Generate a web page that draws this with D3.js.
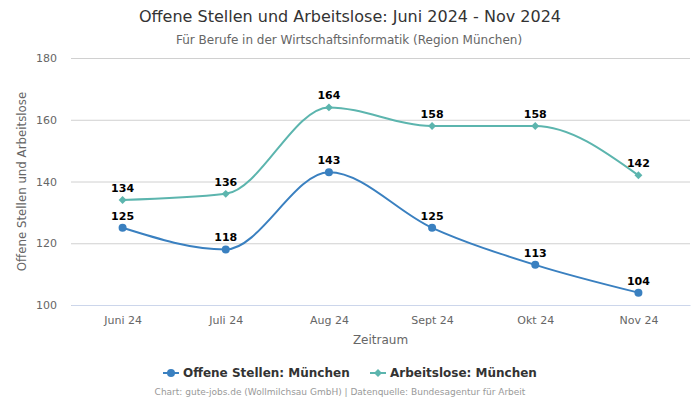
<!DOCTYPE html>
<html><head><meta charset="utf-8">
<script src="https://cdn.jsdelivr.net/npm/d3@7"></script>
<style>body{margin:0;background:#fff}svg{display:block}</style>
</head><body><svg id="c" width="700" height="400"></svg>
<script>
const categories = ["Juni 24","Juli 24","Aug 24","Sept 24","Okt 24","Nov 24"];
const offeneStellen = [125,118,143,125,113,104];
const arbeitslose = [134,136,164,158,158,142];
const yTicks = [100,120,140,160,180];
const seriesNames = ["Offene Stellen: München","Arbeitslose: München"];

const svg = d3.select("#c");
const L=71,R=690,T=58,B=305;
const x = d3.scalePoint().domain(categories).range([L,R]).padding(0.5);
const y = d3.scaleLinear().domain([100,180]).range([B,T]);
const dv = "'DejaVu Sans',sans-serif";

svg.append("text").attr("x",350).attr("y",22).attr("text-anchor","middle")
  .attr("font-family",dv).attr("font-size",16).attr("fill","#333").text("Offene Stellen und Arbeitslose: Juni 2024 - Nov 2024");
svg.append("text").attr("x",349).attr("y",44).attr("text-anchor","middle")
  .attr("font-family",dv).attr("font-size",12).attr("fill","#666").text("Für Berufe in der Wirtschaftsinformatik (Region München)");

const yAxis = d3.axisLeft(y).tickValues(yTicks).tickSize(-(R-L)).tickPadding(14);
const gy = svg.append("g").attr("transform",`translate(${L},0)`).call(yAxis);
gy.select(".domain").remove();
gy.selectAll(".tick line").attr("stroke","#d0d0d0");
gy.selectAll(".tick text").attr("font-family",dv).attr("font-size",11).attr("fill","#666");

const xAxis = d3.axisBottom(x).tickSize(0).tickPadding(11);
const gx = svg.append("g").attr("transform",`translate(0,${B})`).call(xAxis);
gx.select(".domain").attr("stroke","#ccd6eb");
gx.selectAll(".tick text").attr("font-family",dv).attr("font-size",11).attr("fill","#666");

svg.append("text").attr("x",(L+R)/2).attr("y",344).attr("text-anchor","middle")
  .attr("font-family",dv).attr("font-size",12).attr("fill","#666").text("Zeitraum");
svg.append("text").attr("transform",`translate(26,${(T+B)/2}) rotate(-90)`).attr("text-anchor","middle")
  .attr("font-family",dv).attr("font-size",11.8).attr("fill","#666").text("Offene Stellen und Arbeitslose");

const line = d3.line().x((d,i)=>x(categories[i])).y(d=>y(d)).curve(d3.curveMonotoneX);
const series = [
  {vals:arbeitslose,color:"#5cb5ae",shape:"diamond"},
  {vals:offeneStellen,color:"#3a80c0",shape:"circle"}
];
series.forEach(s=>{
  svg.append("path").attr("d",line(s.vals)).attr("fill","none").attr("stroke",s.color).attr("stroke-width",2);
  s.vals.forEach((v,i)=>{
    const cx=x(categories[i]), cy=y(v);
    if(s.shape==="circle") svg.append("circle").attr("cx",cx).attr("cy",cy).attr("r",4).attr("fill",s.color);
    else svg.append("path").attr("d",d3.symbol(d3.symbolDiamond2,40)()).attr("transform",`translate(${cx},${cy})`).attr("fill",s.color);
    svg.append("text").attr("x",cx).attr("y",cy-8).attr("text-anchor","middle")
      .attr("font-family",dv).attr("font-size",11).attr("font-weight","bold").attr("fill","#000").text(v);
  });
});

const lg = svg.append("g");
const items=[{n:seriesNames[0],c:"#3a80c0",shape:"circle",x:163},{n:seriesNames[1],c:"#5cb5ae",shape:"diamond",x:370}];
items.forEach(it=>{
  lg.append("line").attr("x1",it.x).attr("x2",it.x+16).attr("y1",373).attr("y2",373).attr("stroke",it.c).attr("stroke-width",2);
  if(it.shape==="circle") lg.append("circle").attr("cx",it.x+8).attr("cy",373).attr("r",4).attr("fill",it.c);
  else lg.append("path").attr("d",d3.symbol(d3.symbolDiamond2,40)()).attr("transform",`translate(${it.x+8},373)`).attr("fill",it.c);
  lg.append("text").attr("x",it.x+20).attr("y",377).attr("font-family",dv).attr("font-size",12).attr("font-weight","bold").attr("fill","#333").text(it.n);
});
svg.append("text").attr("x",340).attr("y",395).attr("text-anchor","middle")
  .attr("font-family",dv).attr("font-size",9).attr("fill","#999").text("Chart: gute-jobs.de (Wollmilchsau GmbH) | Datenquelle: Bundesagentur für Arbeit");
</script></body></html>
